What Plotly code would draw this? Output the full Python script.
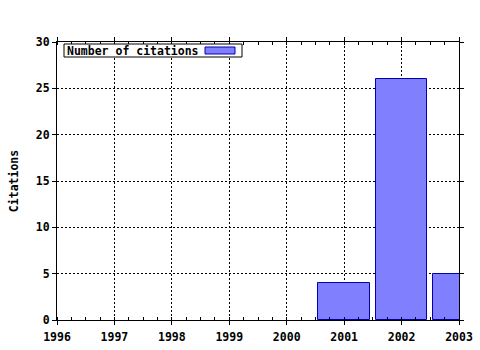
import plotly.graph_objects as go

years = [2001, 2002, 2003]
citations = [4, 26, 5]
x_ticks = [1996, 1997, 1998, 1999, 2000, 2001, 2002, 2003]
y_ticks = [0, 5, 10, 15, 20, 25, 30]
series_name = "Number of citations"

FONT = dict(family="DejaVu Sans Mono", size=11.5, color="black", weight="bold")
FILL = "#8080ff"
EDGE = "#0000b0"

fig = go.Figure()
fig.add_trace(go.Bar(
    x=years, y=citations, width=0.9,
    marker=dict(color=FILL, line=dict(color=EDGE, width=1)),
    name=series_name, showlegend=False,
))

axis_common = dict(
    showline=True, linecolor="black", linewidth=1, mirror="allticks",
    showgrid=True, gridcolor="black", griddash="2px,2px", gridwidth=1,
    zeroline=False, tickfont=FONT, ticklen=4, tickcolor="black",
    automargin=False,
)
fig.update_xaxes(
    range=[1996, 2003], tickvals=x_ticks, ticktext=[str(t) for t in x_ticks],
    ticks="outside", ticklabelstandoff=2,
    minor=dict(dtick=0.25, tick0=1996, ticks="inside", ticklen=3, tickcolor="black", showgrid=False),
    **axis_common,
)
fig.update_yaxes(
    range=[0, 30], tickvals=y_ticks, ticks="outside",
    title=dict(text="Citations", font=FONT, standoff=14),
    **axis_common,
)

# legend box (swatch on the right as in the reference)
fig.add_shape(type="rect", xref="paper", yref="paper",
              x0=(64-57)/402, x1=(242-57)/402, y0=(320-57)/278, y1=(320-44)/278,
              line=dict(color="black", width=1), fillcolor="white", layer="above")
fig.add_shape(type="rect", xref="paper", yref="paper",
              x0=(205-57)/402, x1=(235-57)/402, y0=(320-54)/278, y1=(320-47)/278,
              line=dict(color=EDGE, width=1), fillcolor=FILL, layer="above")
fig.add_annotation(xref="paper", yref="paper", x=(65-57)/402, y=(320-50.5)/278,
                   text=series_name, showarrow=False, xanchor="left", yanchor="middle",
                   font=FONT)

fig.update_layout(
    width=480, height=350,
    margin=dict(l=57, r=21, t=42, b=30, autoexpand=False),
    paper_bgcolor="white", plot_bgcolor="white",
    showlegend=False, bargap=0,
)
fig.write_html("out.html")
